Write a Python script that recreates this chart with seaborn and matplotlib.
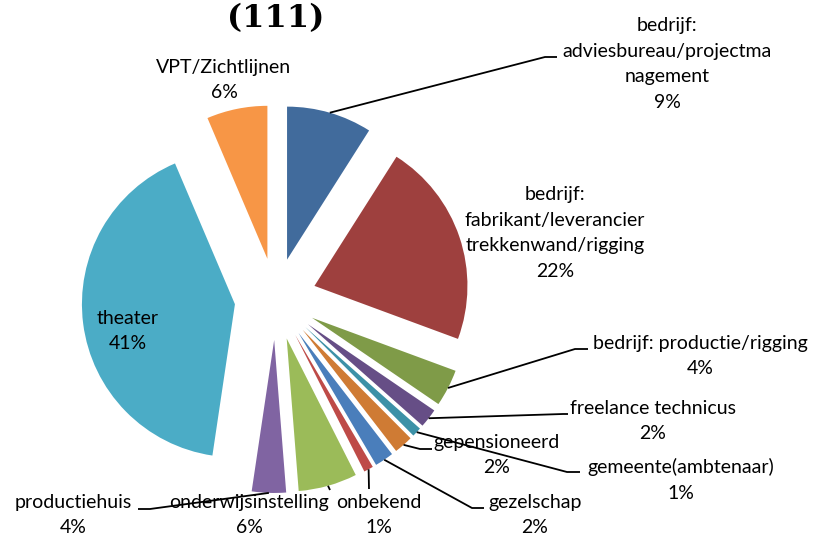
import matplotlib
matplotlib.use("Agg")
import numpy as np
import matplotlib.pyplot as plt
import seaborn as sns

# ---- data (shares in %) ----
categories = [
    "bedrijf:\nadviesbureau/projectma\nnagement",
    "bedrijf:\nfabrikant/leverancier\ntrekkenwand/rigging",
    "bedrijf: productie/rigging",
    "freelance technicus",
    "gemeente(ambtenaar)",
    "gepensioneerd",
    "gezelschap",
    "onbekend",
    "onderwijsinstelling",
    "productiehuis",
    "theater",
    "VPT/Zichtlijnen",
]
shares = [9.0, 21.6, 3.9, 2.0, 1.0, 2.0, 2.0, 1.0, 6.2, 3.6, 41.2, 6.4]
colors = ["#416B9C", "#9E403E", "#7F9B48", "#664E86", "#3C91A7", "#CF7B34",
          "#4A7EBB", "#BE4B48", "#9BBB59", "#8064A2", "#4BACC6", "#F79646"]
title = "(111)"

# ---- layout (pixel coords, origin top-left) ----
W, H = 815, 534
CX, CY, R = 275.6, 299.0, 153.0
EXPLODE = 41.0  # absolute offset in data units (pixels)
label_pos = [(667, 64), (555, 233), (700, 356), (653, 421), (681, 480), (497, 455),
             (535, 515), (379, 515), (249, 515), (73, 515), (128, 331), (224, 80)]
leaders = {
    0: [(545, 57), (557, 57)],
    2: [(575, 349), (588, 349)],
    3: [(563, 414), (568, 414)],
    4: [(567, 472), (580, 472)],
    5: [(420, 449), (432, 449)],
    6: [(472, 508), (484, 508)],
    7: [(369, 489)],
    8: [(330, 490)],
    9: [(150, 509), (138, 509)],
}

sns.set_theme(style="white")
plt.rcParams["font.family"] = ["Lato", "DejaVu Sans"]

fig = plt.figure(figsize=(W / 100, H / 100), dpi=100)
ax = fig.add_axes([0, 0, 1, 1])
ax.axis("off")

def py(y):
    return H - y

wedges, _ = ax.pie(shares, colors=colors, startangle=90, counterclock=False,
                   explode=[EXPLODE] * len(shares), radius=R,
                   center=(CX, py(CY)), wedgeprops=dict(linewidth=0))
ax.set_xlim(0, W)
ax.set_ylim(0, H)
ax.set_aspect("equal")

total = sum(shares)
for i, (lab, v) in enumerate(zip(categories, shares)):
    x, y = label_pos[i]
    pct = int(round(100 * v / total))
    ax.text(x, py(y), f"{lab}\n{pct}%", ha="center", va="center", ma="center",
            fontsize=14, color="#000000", linespacing=1.6)
    if i in leaders:
        w = wedges[i]
        th = np.deg2rad((w.theta1 + w.theta2) / 2)
        cx, cy = w.center
        sx, sy = cx + R * np.cos(th), cy + R * np.sin(th)
        pts = [(sx, sy)] + [(a, py(b)) for a, b in leaders[i]]
        xs, ys = zip(*pts)
        ax.plot(xs, ys, color="black", lw=1.3, solid_capstyle="butt")

ax.text(276, py(27), title, ha="center", va="baseline", fontsize=23,
        fontweight="bold", color="black", family=["DejaVu Serif"])

fig.savefig("out.png", dpi=100)
